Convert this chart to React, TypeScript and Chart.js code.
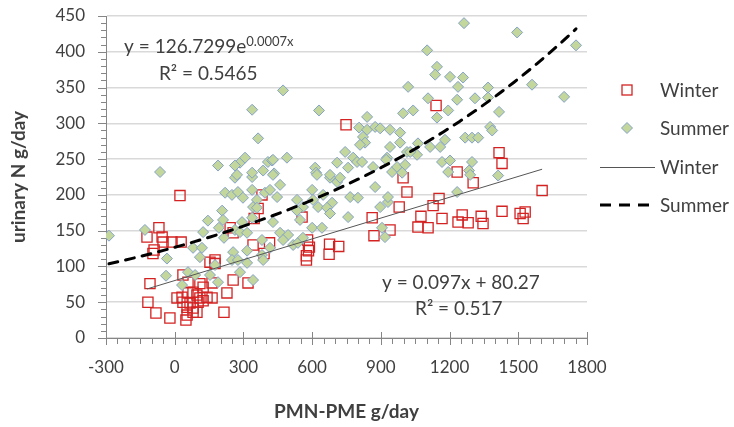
import React, { useEffect, useRef } from 'react';
import { Chart, registerables } from 'chart.js';

Chart.register(...registerables);

// ---- axis ticks ----
const X_TICKS = [-300, 0, 300, 600, 900, 1200, 1500, 1800];
const Y_TICKS = [0, 50, 100, 150, 200, 250, 300, 350, 400, 450];
const X_MINOR_STEP = 50;
const Y_MINOR_STEP = 10;

// ---- series names / texts ----
const SERIES_NAMES = ['Winter', 'Summer'];
const X_TITLE = 'PMN-PME g/day';
const Y_TITLE = 'urinary N g/day';
const SUMMER_EQ_MAIN = 'y = 126.7299e';
const SUMMER_EQ_SUP = '0.0007x';
const SUMMER_R2 = 'R² = 0.5465';
const WINTER_EQ = 'y = 0.097x + 80.27';
const WINTER_R2 = 'R² = 0.517';

// ---- trendline parameters (as printed on the chart) ----
const WINTER_SLOPE = 0.097;
const WINTER_INTERCEPT = 80.27;
const SUMMER_COEF = 126.7299;
const SUMMER_EXP = 0.0007;

// ---- Winter data ----
const winterX = [
  23, -69, -121, -55, -51, -12, 28, -95, -90, -108, -117, -82, -21, 49, 54, 80, 97, 215, 36, 58,
  110, 124, 163, 255, 228, 320, 154, 176, 176, 342, 347, 364, 381, 414, 390, 242, 255, 580, 588, 584,
  575, 575, 556, 676, 716, 674, 862, 870, 940, 980, 1014, 997, 1075, 1062, 1106, 1154, 1167, 1255, 1338, 1346,
  1429, 1530, 1604, 1303, 1141, 1416, 1429, 1233, 748, 10, 32, 58, 80, 97, 110, 141, 163, 36, 67, 102,
  124, 54, 80, 1128, 1237, 1281, 1508, 1521,
];
const winterY = [
  199, 154, 141, 141, 134, 134, 134, 118, 123, 76, 50, 35, 28, 25, 32, 36, 36, 36, 88, 78,
  76, 71, 77, 81, 63, 77, 106, 109, 104, 130, 167, 181, 200, 133, 118, 154, 147, 137, 127, 122,
  115, 109, 169, 131, 128, 117, 168, 143, 151, 183, 204, 224, 170, 155, 154, 195, 167, 172, 170, 160,
  177, 176, 206, 217, 325, 259, 244, 232, 298, 56, 57, 63, 64, 60, 56, 57, 56, 50, 49, 50,
  52, 43, 42, 185, 162, 161, 174, 167,
];

// ---- Summer data ----
const summerX = [
  -287, -130, -34, -38, 32, 58, 89, 154, 176, 80, 119, 110, 145, 124, 207, 211, 193, 215, 189, 220,
  250, 276, 298, 338, 359, 394, 263, 338, 255, 250, 276, 316, 285, 342, 316, 342, 359, 338, 294, 263,
  285, 316, 381, 338, 364, -64, 189, 285, 307, 272, 338, 386, 407, 416, 460, 447, 534, 560, 600, 604,
  626, 648, 687, 665, 678, 709, 722, 766, 800, 757, 547, 534, 429, 600, 643, 460, 495, 473, 517, 538,
  560, 416, 381, 386, 897, 931, 905, 918, 473, 630, 840, 805, 840, 875, 897, 940, 984, 1019, 997, 1041,
  1102, 822, 831, 984, 425, 490, 434, 613, 617, 678, 709, 744, 757, 779, 796, 818, 809, 866, 927, 949,
  971, 1014, 1058, 1263, 1495, 1752, 1145, 1137, 1202, 1259, 1237, 1368, 1560, 1700, 1106, 1233, 1311, 1368, 1194, 1145,
  1416, 1377, 1386, 1268, 1298, 1325, 1180, 1115, 1159, 1167, 1202, 1298, 1194, 1285, 1412, 940, 1062, 923, 1006, 993,
  1028, 1233, 931, 1290, 263, 429, 429, 621, 678, 875,
];
const summerY = [
  143, 151, 111, 87, 74, 92, 88, 88, 102, 126, 126, 113, 164, 148, 178, 165, 154, 140, 78, 203,
  200, 204, 196, 207, 193, 203, 224, 225, 120, 109, 109, 105, 92, 81, 122, 183, 182, 168, 162, 151,
  148, 147, 137, 319, 279, 232, 241, 245, 252, 228, 231, 234, 246, 207, 214, 197, 193, 183, 207, 193,
  183, 200, 189, 182, 174, 218, 224, 197, 196, 169, 165, 178, 162, 154, 154, 147, 144, 137, 130, 133,
  140, 126, 116, 109, 183, 190, 154, 141, 346, 318, 309, 294, 291, 295, 293, 291, 287, 351, 314, 318,
  402, 281, 273, 273, 248, 252, 230, 238, 231, 224, 245, 260, 238, 252, 246, 246, 270, 239, 252, 232,
  239, 260, 256, 440, 427, 409, 379, 368, 365, 364, 351, 350, 354, 337, 335, 333, 335, 336, 318, 308,
  316, 295, 290, 280, 280, 280, 277, 267, 267, 246, 248, 246, 232, 234, 227, 267, 272, 249, 242, 231,
  260, 204, 197, 228, 241, 249, 228, 228, 228, 211,
];

// ---- colours ----
const WINTER_COLOR = '#D42222';
const SUMMER_FILL = '#C3D69B';
const SUMMER_BORDER = '#84A2C8';
const WINTER_LINE = '#555555';
const SUMMER_LINE = '#000000';
const AXIS_COLOR = '#868686';
const GRID_COLOR = '#D9D9D9';
const TEXT_COLOR = '#404040';
const FONT = 'Lato, "Open Sans", sans-serif';

function toPoints(xs: number[], ys: number[]) {
  return xs.map((x, i) => ({ x, y: ys[i] }));
}

function winterTrend() {
  const lo = Math.min(...winterX);
  const hi = Math.max(...winterX);
  return [lo, hi].map((x) => ({ x, y: WINTER_SLOPE * x + WINTER_INTERCEPT }));
}

function summerTrend() {
  const lo = Math.min(...summerX);
  const hi = Math.max(...summerX);
  const n = 60;
  const pts: { x: number; y: number }[] = [];
  for (let i = 0; i <= n; i++) {
    const x = lo + ((hi - lo) * i) / n;
    pts.push({ x, y: SUMMER_COEF * Math.exp(SUMMER_EXP * x) });
  }
  return pts;
}

const decorPlugin = {
  id: 'decor',
  afterDraw(chart: any) {
    const { ctx, chartArea: ca, scales } = chart;
    const xs = scales.x;
    const ys = scales.y;
    ctx.save();

    // tick marks
    ctx.strokeStyle = AXIS_COLOR;
    ctx.lineWidth = 1;
    ctx.beginPath();
    const x0 = X_TICKS[0];
    const x1 = X_TICKS[X_TICKS.length - 1];
    for (let v = x0; v <= x1; v += X_MINOR_STEP) {
      const px = Math.round(xs.getPixelForValue(v)) + 0.5;
      const major = X_TICKS.includes(v);
      ctx.moveTo(px, ca.bottom + (major ? -6 : 0));
      ctx.lineTo(px, ca.bottom + (major ? 7 : 6));
    }
    const y0 = Y_TICKS[0];
    const y1 = Y_TICKS[Y_TICKS.length - 1];
    for (let v = y0; v <= y1; v += Y_MINOR_STEP) {
      const py = Math.round(ys.getPixelForValue(v)) + 0.5;
      const major = Y_TICKS.includes(v);
      ctx.moveTo(ca.left - (major ? 8 : 5), py);
      ctx.lineTo(ca.left, py);
    }
    ctx.stroke();

    // trendline equations
    ctx.fillStyle = TEXT_COLOR;
    ctx.textBaseline = 'alphabetic';
    ctx.textAlign = 'left';
    ctx.font = `19px ${FONT}`;
    const sx = xs.getPixelForValue(-221);
    const sy = ys.getPixelForValue(398);
    ctx.fillText(SUMMER_EQ_MAIN, sx, sy);
    const w = ctx.measureText(SUMMER_EQ_MAIN).width;
    ctx.font = `13px ${FONT}`;
    ctx.fillText(SUMMER_EQ_SUP, sx + w, sy - 7);
    ctx.font = `19px ${FONT}`;
    ctx.fillText(SUMMER_R2, xs.getPixelForValue(-69), ys.getPixelForValue(361));
    ctx.fillText(WINTER_EQ, xs.getPixelForValue(905), ys.getPixelForValue(69));
    ctx.fillText(WINTER_R2, xs.getPixelForValue(1049), ys.getPixelForValue(32));

    // legend
    const lx = ca.right;
    const rows = [ca.top + 74, ca.top + 112, ca.top + 151, ca.top + 189];
    const mx = lx + 40;
    ctx.strokeStyle = WINTER_COLOR;
    ctx.lineWidth = 1.3;
    ctx.strokeRect(mx - 5, rows[0] - 5, 10, 10);
    ctx.beginPath();
    ctx.moveTo(mx - 5.5, rows[1]);
    ctx.lineTo(mx, rows[1] - 5.5);
    ctx.lineTo(mx + 5.5, rows[1]);
    ctx.lineTo(mx, rows[1] + 5.5);
    ctx.closePath();
    ctx.fillStyle = SUMMER_FILL;
    ctx.fill();
    ctx.strokeStyle = SUMMER_BORDER;
    ctx.lineWidth = 1;
    ctx.stroke();
    ctx.beginPath();
    ctx.strokeStyle = WINTER_LINE;
    ctx.lineWidth = 1;
    ctx.moveTo(lx + 13, rows[2] + 0.5);
    ctx.lineTo(lx + 68, rows[2] + 0.5);
    ctx.stroke();
    ctx.beginPath();
    ctx.strokeStyle = SUMMER_LINE;
    ctx.lineWidth = 3;
    ctx.setLineDash([11, 8]);
    ctx.moveTo(lx + 13, rows[3]);
    ctx.lineTo(lx + 68, rows[3]);
    ctx.stroke();
    ctx.setLineDash([]);

    ctx.fillStyle = TEXT_COLOR;
    ctx.font = `19px ${FONT}`;
    ctx.textBaseline = 'middle';
    const labels = [SERIES_NAMES[0], SERIES_NAMES[1], SERIES_NAMES[0], SERIES_NAMES[1]];
    labels.forEach((t, i) => ctx.fillText(t, lx + 73, rows[i] + 1));

    ctx.restore();
  },
};

export default function App() {
  const ref = useRef<HTMLCanvasElement | null>(null);

  useEffect(() => {
    document.body.style.margin = '0';
    const canvas = ref.current;
    if (!canvas) return;
    const chart = new Chart(canvas, {
      type: 'scatter',
      data: {
        datasets: [
          {
            label: SERIES_NAMES[1] + ' trend',
            type: 'line',
            data: summerTrend(),
            showLine: true,
            borderColor: SUMMER_LINE,
            borderWidth: 3,
            borderDash: [9, 8],
            borderCapStyle: 'round',
            pointRadius: 0,
            fill: false,
            tension: 0,
            order: 0,
          },
          {
            label: SERIES_NAMES[0] + ' trend',
            type: 'line',
            data: winterTrend(),
            showLine: true,
            borderColor: WINTER_LINE,
            borderWidth: 1,
            pointRadius: 0,
            fill: false,
            order: 1,
          },
          {
            label: SERIES_NAMES[1],
            data: toPoints(summerX, summerY),
            pointStyle: 'rectRot',
            pointRadius: 5.5,
            backgroundColor: SUMMER_FILL,
            borderColor: SUMMER_BORDER,
            borderWidth: 1,
            order: 2,
          },
          {
            label: SERIES_NAMES[0],
            data: toPoints(winterX, winterY),
            pointStyle: 'rect',
            pointRadius: 7.2,
            backgroundColor: 'rgba(0,0,0,0)',
            borderColor: WINTER_COLOR,
            borderWidth: 1.3,
            order: 3,
          },
        ],
      } as any,
      options: {
        animation: false,
        responsive: true,
        maintainAspectRatio: false,
        layout: { autoPadding: false, padding: { left: 0, right: 147, top: 16, bottom: 0 } },
        plugins: { legend: { display: false }, tooltip: { enabled: false }, title: { display: false } },
        scales: {
          x: {
            type: 'linear',
            min: X_TICKS[0],
            max: X_TICKS[X_TICKS.length - 1],
            afterBuildTicks: (s: any) => {
              s.ticks = X_TICKS.map((v) => ({ value: v }));
            },
            afterFit: (s: any) => {
              s.height = 89;
            },
            grid: { display: false, drawTicks: false },
            border: { display: true, color: AXIS_COLOR, width: 1 },
            ticks: {
              padding: 19,
              color: TEXT_COLOR,
              font: { size: 17, family: FONT },
              maxRotation: 0,
              autoSkip: false,
              callback: (v: any) => String(v),
            },
            title: {
              display: true,
              text: X_TITLE,
              color: TEXT_COLOR,
              font: { size: 19, weight: 'bold', family: FONT },
              padding: { top: 0, bottom: 4 },
            },
          },
          y: {
            type: 'linear',
            min: Y_TICKS[0],
            max: Y_TICKS[Y_TICKS.length - 1],
            afterBuildTicks: (s: any) => {
              s.ticks = Y_TICKS.map((v) => ({ value: v }));
            },
            afterFit: (s: any) => {
              s.width = 106;
            },
            grid: {
              display: true,
              drawTicks: true,
              tickLength: 16,
              tickColor: 'rgba(0,0,0,0)',
              color: GRID_COLOR,
              lineWidth: 1.5,
            },
            border: { display: true, color: AXIS_COLOR, width: 1 },
            ticks: {
              padding: 5,
              color: TEXT_COLOR,
              font: { size: 17, family: FONT },
              autoSkip: false,
              callback: (v: any) => String(v),
            },
            title: {
              display: true,
              text: Y_TITLE,
              color: TEXT_COLOR,
              font: { size: 19, weight: 'bold', family: FONT },
              padding: { top: 7, bottom: 0 },
            },
          },
        },
      } as any,
      plugins: [decorPlugin],
    });
    return () => chart.destroy();
  }, []);

  return (
    <div style={{ position: 'fixed', left: 0, top: 0, width: 734, height: 427, background: '#ffffff' }}>
      <canvas ref={ref} />
    </div>
  );
}
